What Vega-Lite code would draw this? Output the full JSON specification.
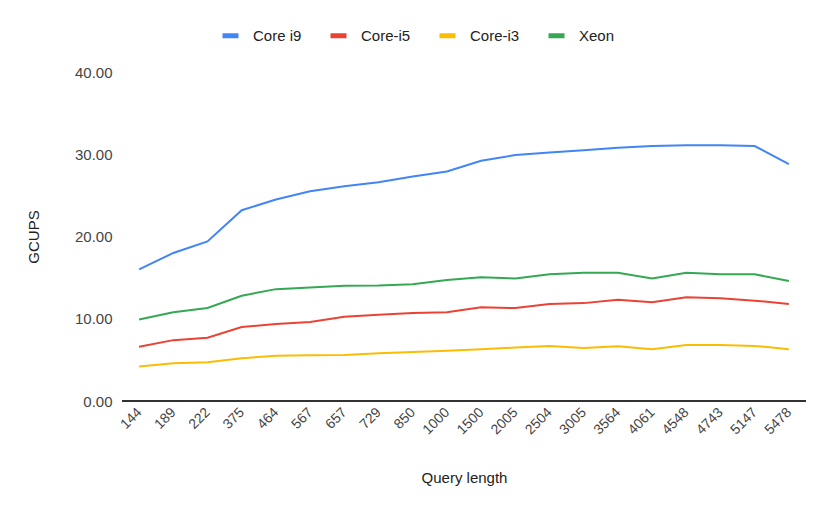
{
  "$schema": "https://vega.github.io/schema/vega-lite/v6.json",
  "autosize": "none",
  "width": 684,
  "height": 329,
  "padding": {"left": 122, "top": 72, "right": 24, "bottom": 113},
  "background": "white",
  "data": {
    "values": [
      {"q": 144, "Core i9": 16.0, "Core-i5": 6.6, "Core-i3": 4.2, "Xeon": 9.9},
      {"q": 189, "Core i9": 18.0, "Core-i5": 7.4, "Core-i3": 4.6, "Xeon": 10.8},
      {"q": 222, "Core i9": 19.4, "Core-i5": 7.7, "Core-i3": 4.7, "Xeon": 11.3},
      {"q": 375, "Core i9": 23.2, "Core-i5": 9.0, "Core-i3": 5.2, "Xeon": 12.8},
      {"q": 464, "Core i9": 24.5, "Core-i5": 9.35, "Core-i3": 5.5, "Xeon": 13.6},
      {"q": 567, "Core i9": 25.5, "Core-i5": 9.6, "Core-i3": 5.55, "Xeon": 13.8},
      {"q": 657, "Core i9": 26.1, "Core-i5": 10.25, "Core-i3": 5.6, "Xeon": 14.0},
      {"q": 729, "Core i9": 26.6, "Core-i5": 10.5, "Core-i3": 5.8, "Xeon": 14.05},
      {"q": 850, "Core i9": 27.3, "Core-i5": 10.7, "Core-i3": 5.95, "Xeon": 14.2},
      {"q": 1000, "Core i9": 27.9, "Core-i5": 10.8, "Core-i3": 6.1, "Xeon": 14.7},
      {"q": 1500, "Core i9": 29.2, "Core-i5": 11.4, "Core-i3": 6.3, "Xeon": 15.05},
      {"q": 2005, "Core i9": 29.9, "Core-i5": 11.3, "Core-i3": 6.5, "Xeon": 14.9},
      {"q": 2504, "Core i9": 30.2, "Core-i5": 11.8, "Core-i3": 6.7, "Xeon": 15.4},
      {"q": 3005, "Core i9": 30.5, "Core-i5": 11.9, "Core-i3": 6.45, "Xeon": 15.6},
      {"q": 3564, "Core i9": 30.8, "Core-i5": 12.3, "Core-i3": 6.65, "Xeon": 15.6},
      {"q": 4061, "Core i9": 31.0, "Core-i5": 12.0, "Core-i3": 6.3, "Xeon": 14.9},
      {"q": 4548, "Core i9": 31.1, "Core-i5": 12.6, "Core-i3": 6.8, "Xeon": 15.6},
      {"q": 4743, "Core i9": 31.1, "Core-i5": 12.5, "Core-i3": 6.8, "Xeon": 15.4},
      {"q": 5147, "Core i9": 31.0, "Core-i5": 12.2, "Core-i3": 6.7, "Xeon": 15.4},
      {"q": 5478, "Core i9": 28.8, "Core-i5": 11.8, "Core-i3": 6.3, "Xeon": 14.6}
    ]
  },
  "layer": [
    {
      "mark": {"type": "rule", "color": "#333333", "strokeWidth": 1},
      "encoding": {"y": {"datum": 0, "type": "quantitative"}}
    },
    {
      "transform": [{"fold": ["Core i9", "Core-i5", "Core-i3", "Xeon"], "as": ["cpu", "gcups"]}],
      "mark": {"type": "line", "strokeWidth": 2, "interpolate": "linear"},
      "encoding": {
        "x": {
          "field": "q",
          "type": "ordinal",
          "scale": {"type": "point", "padding": 0.5},
          "title": "Query length",
          "axis": {
            "labelAngle": -45,
            "labelAlign": "right",
            "labelBaseline": "middle",
            "labelPadding": 9,
            "labelFontSize": 14,
            "domain": false,
            "ticks": false,
            "titlePadding": 34
          }
        },
        "y": {
          "field": "gcups",
          "type": "quantitative",
          "scale": {"domain": [0, 40], "nice": false},
          "title": "GCUPS",
          "axis": {
            "values": [0, 10, 20, 30, 40],
            "format": ".2f",
            "domain": false,
            "ticks": false,
            "labelPadding": 10,
            "titlePadding": 33
          }
        },
        "color": {
          "field": "cpu",
          "type": "nominal",
          "scale": {
            "domain": ["Core i9", "Core-i5", "Core-i3", "Xeon"],
            "range": ["#4285F4", "#EA4335", "#FBBC04", "#34A853"]
          },
          "legend": {
            "orient": "none",
            "direction": "horizontal",
            "legendX": 98,
            "legendY": -47,
            "title": null,
            "symbolType": "stroke",
            "symbolSize": 256,
            "symbolStrokeWidth": 5,
            "columnPadding": 18,
            "labelOffset": 12
          }
        }
      }
    }
  ],
  "config": {
    "font": "Liberation Sans",
    "view": {"stroke": null},
    "axis": {
      "labelFont": "Liberation Sans",
      "labelFontSize": 15,
      "labelColor": "#444444",
      "titleFont": "Liberation Sans",
      "titleFontSize": 15,
      "titleFontWeight": "normal",
      "titleColor": "#222222",
      "gridColor": "#cccccc",
      "gridWidth": 1
    },
    "legend": {
      "labelFont": "Liberation Sans",
      "labelFontSize": 15,
      "labelColor": "#222222"
    }
  }
}
